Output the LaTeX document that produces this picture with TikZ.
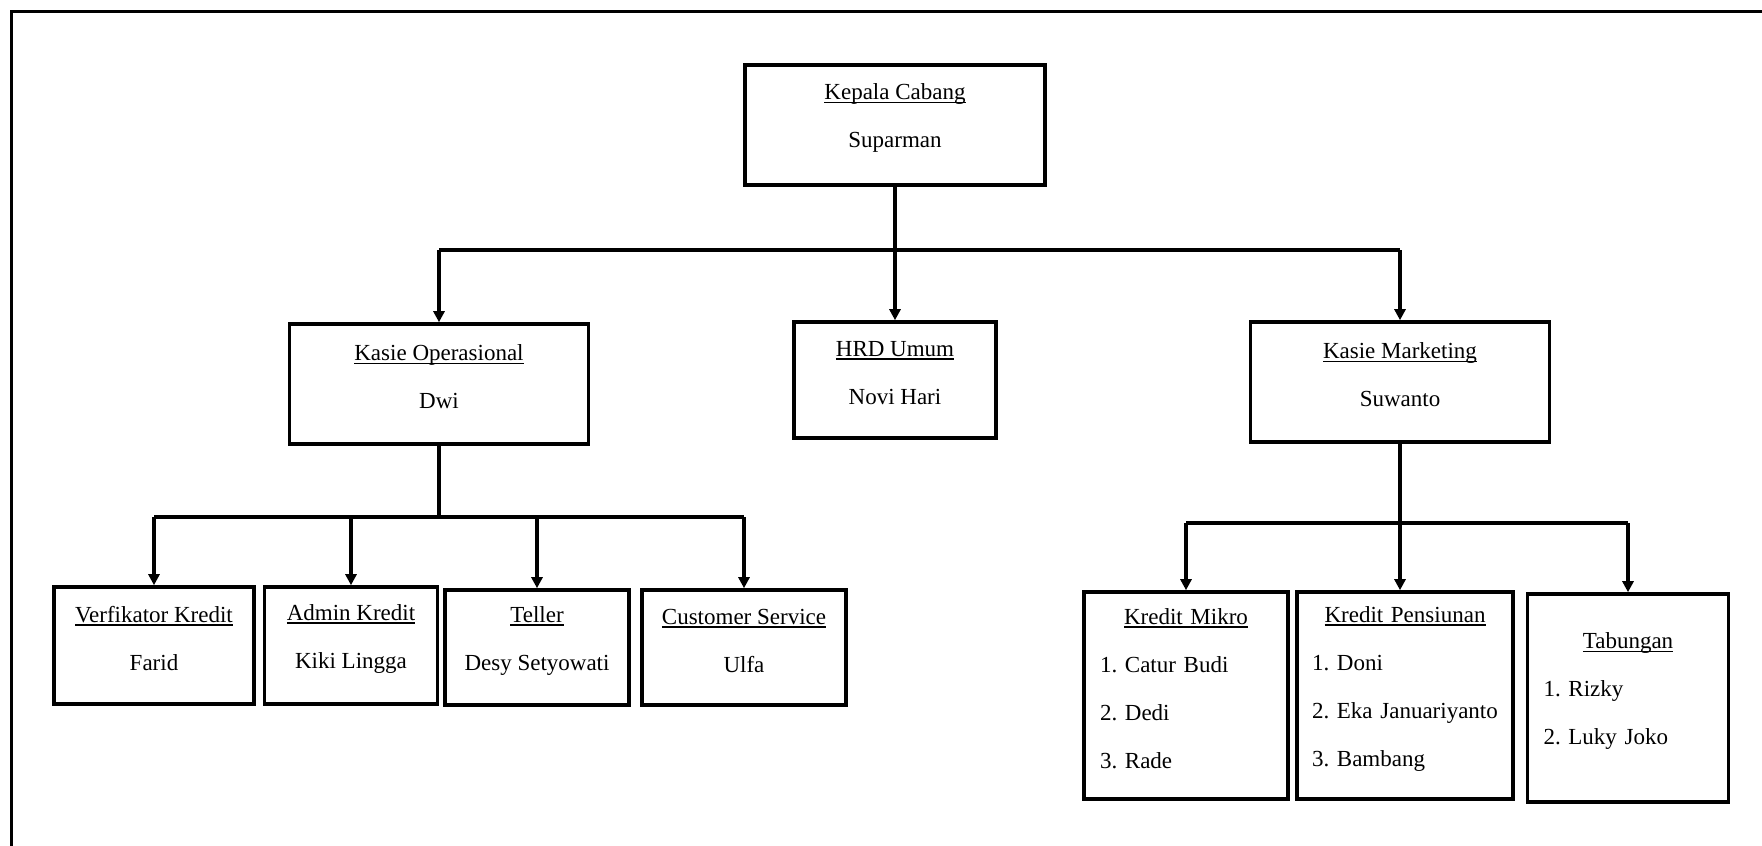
\documentclass[tikz,border=0pt]{standalone}
\usepackage{fontspec}
\setmainfont{Liberation Serif}
\usetikzlibrary{arrows.meta}
\newcommand{\ultext}[1]{\setbox0\hbox{#1}\rlap{\rule[-1.8pt]{\wd0}{0.8pt}}\box0}
\begin{document}
\begin{tikzpicture}[x=0.5pt,y=-0.5pt,
  every node/.style={inner sep=0pt},
  orgbox/.style={draw,line width=1.8pt},
  txt/.style={align=center,yshift=3.5pt,font=\fontsize{11.5}{24}\selectfont\frenchspacing},
  listtxt/.style={txt,align=left,execute at begin node={\setlength{\parindent}{0pt}}},
  link/.style={line width=1.8pt},
  arr/.style={link,-{Triangle[length=5.5pt,width=5.5pt]}}]
\useasboundingbox (0,0) rectangle (1762,846);
\draw [line width=1.5pt] (11,846) -- (11,11) -- (1762,11);
% boxes
\node [orgbox,minimum width=150pt,minimum height=60pt] (kc) at (895,125) {};
\node [txt] (kcT) at (kc) {\ultext{Kepala Cabang}\\Suparman};
\node [orgbox,minimum width=149.5pt,minimum height=60pt] (kop) at (439,384) {};
\node [txt] (kopT) at (kop) {\ultext{Kasie Operasional}\\Dwi};
\node [orgbox,minimum width=101pt,minimum height=58pt] (hrd) at (895,380) {};
\node [txt] (hrdT) at (hrd) {\ultext{HRD Umum}\\Novi Hari};
\node [orgbox,minimum width=149.5pt,minimum height=60pt] (kmk) at (1400,382) {};
\node [txt] (kmkT) at (kmk) {\ultext{Kasie Marketing}\\Suwanto};
\node [orgbox,minimum width=100pt,minimum height=58.5pt] (vk) at (154,645.5) {};
\node [txt] (vkT) at (vk) {\ultext{Verfikator Kredit}\\Farid};
\node [orgbox,minimum width=86.5pt,minimum height=58.5pt] (ak) at (351,645.5) {};
\node [txt] (akT) at (ak) {\ultext{Admin Kredit}\\Kiki Lingga};
\node [orgbox,minimum width=92pt,minimum height=57.5pt] (tl) at (537,647.5) {};
\node [txt] (tlT) at (tl) {\ultext{Teller}\\Desy Setyowati};
\node [orgbox,minimum width=102pt,minimum height=57.5pt] (cs) at (744,647.5) {};
\node [txt] (csT) at (cs) {\ultext{Customer Service}\\Ulfa};
\node [orgbox,minimum width=102pt,minimum height=103.5pt] (km) at (1186,695.5) {};
\node [listtxt,text width=86pt] (kmT) at (km) {{\centering\ultext{Kredit Mikro}\par}1. Catur Budi\par 2. Dedi\par 3. Rade};
\node [orgbox,minimum width=108pt,minimum height=103.5pt] (kp) at (1405,695.5) {};
\node [listtxt,text width=93pt] (kpT) at (kp) {{\centering\ultext{Kredit Pensiunan}\par}1. Doni\par \mbox{2. Eka Januariyanto}\par 3. Bambang};
\node [orgbox,minimum width=100.5pt,minimum height=104pt] (tb) at (1628,698) {};
\node [listtxt,text width=84.5pt] (tbT) at (tb) {{\centering\ultext{Tabungan}\par}1. Rizky\par 2. Luky Joko};
% top level
\coordinate (busA) at (895,250);
\draw [link] (kc.south) -- (busA);
\draw [link] (busA -| kop.north) -- (busA -| kmk.north);
\draw [arr] (busA -| kop.north) -- (kop.north);
\draw [arr] (busA) -- (hrd.north);
\draw [arr] (busA -| kmk.north) -- (kmk.north);
% operasional
\coordinate (busB) at (439,517);
\draw [link] (kop.south) -- (busB);
\draw [link] (busB -| vk.north) -- (busB -| cs.north);
\draw [arr] (busB -| vk.north) -- (vk.north);
\draw [arr] (busB -| ak.north) -- (ak.north);
\draw [arr] (busB -| tl.north) -- (tl.north);
\draw [arr] (busB -| cs.north) -- (cs.north);
% marketing
\coordinate (busC) at (1400,523);
\draw [arr] (kmk.south) -- (kmk.south |- kp.north);
\draw [link] (busC -| km.north) -- (busC -| tb.north);
\draw [arr] (busC -| km.north) -- (km.north);
\draw [arr] (busC -| tb.north) -- (tb.north);
\end{tikzpicture}
\end{document}
